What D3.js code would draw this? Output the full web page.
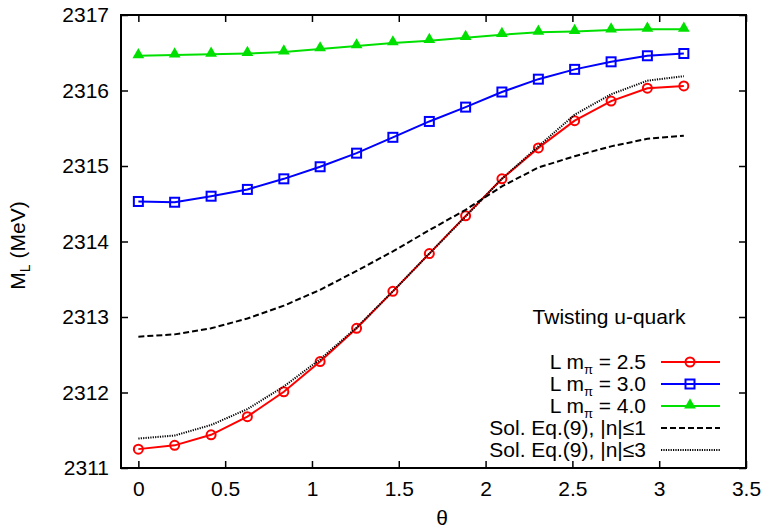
<!DOCTYPE html>
<html>
<head>
<meta charset="utf-8">
<script src="https://cdn.jsdelivr.net/npm/d3@7"></script>
<style>
  body { margin: 0; background: #fff; }
  svg { font-family: 'Liberation Sans', Arial, sans-serif; }
</style>
</head>
<body>
<script>
// theta = k*pi/15, k = 0..15
var theta = [0, 0.209, 0.419, 0.628, 0.838, 1.047, 1.257, 1.466, 1.676, 1.885, 2.094, 2.304, 2.513, 2.723, 2.932, 3.142]

var lm25 = [2311.25, 2311.30, 2311.44, 2311.68, 2312.01, 2312.41, 2312.85, 2313.34, 2313.84, 2314.34, 2314.83, 2315.24, 2315.60, 2315.86, 2316.03, 2316.06]
var lm30 = [2314.53, 2314.52, 2314.60, 2314.69, 2314.83, 2314.99, 2315.17, 2315.38, 2315.59, 2315.78, 2315.98, 2316.15, 2316.28, 2316.38, 2316.46, 2316.49]
var lm40 = [2316.46, 2316.47, 2316.48, 2316.49, 2316.51, 2316.55, 2316.59, 2316.63, 2316.66, 2316.70, 2316.74, 2316.77, 2316.78, 2316.80, 2316.81, 2316.81]
var sol1 = [2312.74, 2312.77, 2312.85, 2312.98, 2313.15, 2313.36, 2313.61, 2313.87, 2314.15, 2314.42, 2314.73, 2314.98, 2315.13, 2315.26, 2315.36, 2315.40]
var sol3 = [2311.39, 2311.43, 2311.57, 2311.78, 2312.08, 2312.44, 2312.86, 2313.34, 2313.84, 2314.33, 2314.83, 2315.26, 2315.68, 2315.95, 2316.13, 2316.19]

var xTicks = [0, 0.5, 1, 1.5, 2, 2.5, 3, 3.5]
var yTicks = [2311, 2312, 2313, 2314, 2315, 2316, 2317]

var W = 774, H = 530, fs = 21
var pL = 121, pR = 746, pT = 15, pB = 468

var svg = d3.select('body').append('svg').attr('width', W).attr('height', H)

var x = d3.scaleLinear().domain([-0.1, 3.5]).range([pL, pR])
var y = d3.scaleLinear().domain([2311, 2317]).range([pB, pT])

function styleAxis(g){
  g.select('.domain').remove()
  g.selectAll('line').attr('stroke', '#000').attr('stroke-width', 1.5)
  g.attr('font-size', fs).attr('font-family', null)
}

svg.append('g').attr('transform', 'translate(0,' + pB + ')')
  .call(d3.axisBottom(x).tickValues(xTicks).tickSize(-7).tickPadding(13).tickFormat(d3.format('')))
  .call(styleAxis)
svg.append('g').attr('transform', 'translate(0,' + pT + ')')
  .call(d3.axisTop(x).tickValues(xTicks).tickSize(-7).tickFormat(''))
  .call(styleAxis)
svg.append('g').attr('transform', 'translate(' + pL + ',0)')
  .call(d3.axisLeft(y).tickValues(yTicks).tickSize(-7).tickPadding(12).tickFormat(d3.format('d')))
  .call(styleAxis)
svg.append('g').attr('transform', 'translate(' + pR + ',0)')
  .call(d3.axisRight(y).tickValues(yTicks).tickSize(-7).tickFormat(''))
  .call(styleAxis)

svg.append('rect').attr('x', pL).attr('y', pT).attr('width', pR - pL).attr('height', pB - pT)
  .attr('fill', 'none').attr('stroke', '#000').attr('stroke-width', 2)

// axis titles
var yl = svg.append('text').attr('transform', 'translate(25,' + (y(2314) + 4) + ') rotate(-90)')
  .attr('text-anchor', 'middle').attr('font-size', fs)
yl.append('tspan').text('M')
yl.append('tspan').attr('font-size', 14).attr('dy', 5).text('L')
yl.append('tspan').attr('dy', -5).text(' (MeV)')

svg.append('text').attr('x', x(1.75)).attr('y', 525).attr('text-anchor', 'middle')
  .attr('font-size', fs).text('θ')

var line = d3.line().x(function(d, i){ return x(theta[i]) }).y(function(d){ return y(d) })

var series = [
  {name: '2.5', vals: lm25, color: '#ff0000', sym: 'circle'},
  {name: '3.0', vals: lm30, color: '#0000ff', sym: 'square'},
  {name: '4.0', vals: lm40, color: '#00e000', sym: 'triangle'}
]
var curves = [
  {name: 'Sol. Eq.(9), |n|≤1', vals: sol1, dash: '6,3'},
  {name: 'Sol. Eq.(9), |n|≤3', vals: sol3, dash: '1.2,1.2'}
]

function drawSym(g, s, cx, cy){
  if (s.sym === 'circle') {
    g.append('circle').attr('cx', cx).attr('cy', cy).attr('r', 4.5)
      .attr('fill', 'none').attr('stroke', s.color).attr('stroke-width', 2)
  } else if (s.sym === 'square') {
    g.append('rect').attr('x', cx - 4.5).attr('y', cy - 4.5).attr('width', 9).attr('height', 9)
      .attr('fill', 'none').attr('stroke', s.color).attr('stroke-width', 2)
  } else {
    g.append('path').attr('d', d3.symbol().type(d3.symbolTriangle).size(60)())
      .attr('transform', 'translate(' + cx + ',' + (cy - 1) + ')')
      .attr('fill', s.color)
  }
}

var plot = svg.append('g')
series.forEach(function(s){
  plot.append('path').attr('d', line(s.vals)).attr('fill', 'none')
    .attr('stroke', s.color).attr('stroke-width', 2)
  s.vals.forEach(function(v, i){ drawSym(plot, s, x(theta[i]), y(v)) })
})
curves.forEach(function(c){
  plot.append('path').attr('d', line(c.vals)).attr('fill', 'none')
    .attr('stroke', '#000').attr('stroke-width', 2).attr('stroke-dasharray', c.dash)
})

// legend
var lg = svg.append('g').attr('font-size', fs)
lg.append('text').attr('x', 609).attr('y', 324).attr('text-anchor', 'middle').text('Twisting u-quark')

var rowY = [362, 384, 406, 428, 450]
series.forEach(function(s, i){
  var t = lg.append('text').attr('x', 646).attr('y', rowY[i] + 7).attr('text-anchor', 'end')
  t.append('tspan').text('L m')
  t.append('tspan').attr('font-size', 13).attr('dy', 5).text('π')
  t.append('tspan').attr('dy', -5).text(' = ' + s.name)
  lg.append('line').attr('x1', 661).attr('x2', 720).attr('y1', rowY[i]).attr('y2', rowY[i])
    .attr('stroke', s.color).attr('stroke-width', 2)
  drawSym(lg, s, 690, rowY[i])
})
curves.forEach(function(c, j){
  var ry = rowY[3 + j]
  lg.append('text').attr('x', 646).attr('y', ry + 7).attr('text-anchor', 'end').text(c.name)
  lg.append('line').attr('x1', 661).attr('x2', 720).attr('y1', ry).attr('y2', ry)
    .attr('stroke', '#000').attr('stroke-width', 2).attr('stroke-dasharray', c.dash)
})
</script>
</body>
</html>
